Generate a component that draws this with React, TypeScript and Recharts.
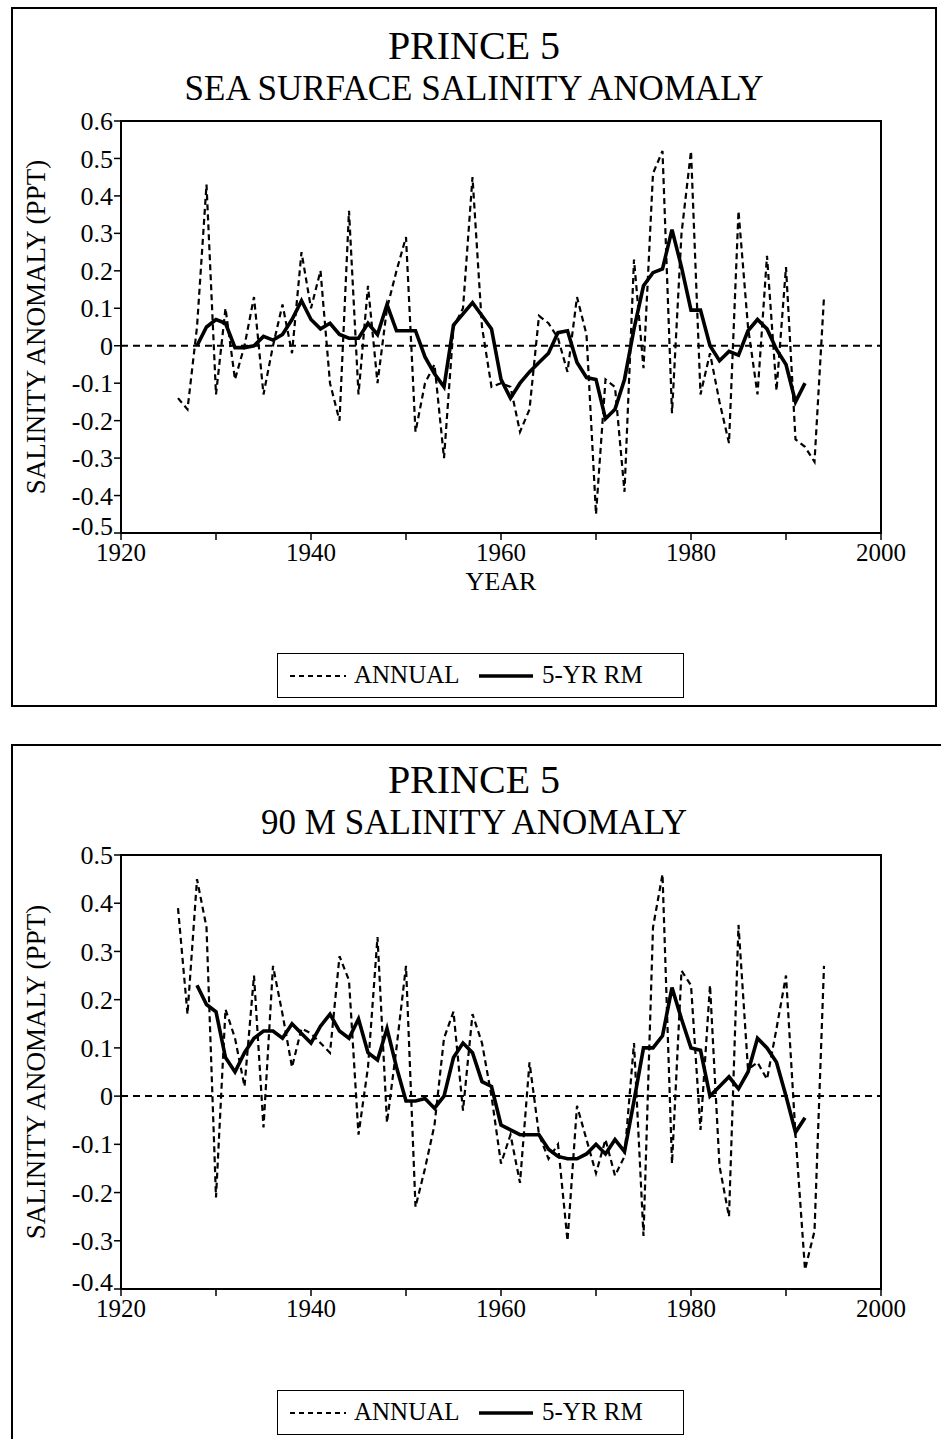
import { LineChart, Line, XAxis, YAxis, ReferenceLine, ReferenceArea } from 'recharts';

const FONT = '"Liberation Serif", "Times New Roman", serif';

// years with annual values, and years covered by the 5-yr running mean
const years = [
  1926, 1927, 1928, 1929, 1930, 1931, 1932, 1933, 1934, 1935, 1936, 1937, 1938, 1939, 1940,
  1941, 1942, 1943, 1944, 1945, 1946, 1947, 1948, 1949, 1950, 1951, 1952, 1953, 1954, 1955,
  1956, 1957, 1958, 1959, 1960, 1961, 1962, 1963, 1964, 1965, 1966, 1967, 1968, 1969, 1970,
  1971, 1972, 1973, 1974, 1975, 1976, 1977, 1978, 1979, 1980, 1981, 1982, 1983, 1984, 1985,
  1986, 1987, 1988, 1989, 1990, 1991, 1992, 1993, 1994,
];
const rmYears = years.slice(2, -2);

// sea surface salinity anomaly (ppt)
const surfaceAnnual = [
  -0.14, -0.17, 0.05, 0.43, -0.13, 0.1, -0.09, 0.0, 0.13, -0.13, 0.0, 0.11, -0.02, 0.25, 0.1,
  0.2, -0.1, -0.2, 0.36, -0.13, 0.16, -0.1, 0.1, 0.2, 0.29, -0.23, -0.1, -0.05, -0.3, 0.05,
  0.1, 0.45, 0.05, -0.11, -0.1, -0.11, -0.23, -0.17, 0.08, 0.06, 0.02, -0.07, 0.13, 0.03, -0.45,
  -0.09, -0.11, -0.39, 0.23, -0.06, 0.46, 0.52, -0.18, 0.3, 0.52, -0.13, -0.02, -0.15, -0.26, 0.36,
  0.05, -0.13, 0.24, -0.12, 0.21, -0.25, -0.27, -0.31, 0.13,
];
const surfaceRm = [
  0.0, 0.05, 0.07, 0.06, -0.005, -0.005, 0.0, 0.025, 0.015, 0.03, 0.07, 0.12, 0.07,
  0.045, 0.06, 0.03, 0.02, 0.02, 0.06, 0.03, 0.11, 0.04, 0.04, 0.04, -0.03, -0.075,
  -0.11, 0.055, 0.085, 0.115, 0.08, 0.045, -0.09, -0.14, -0.1, -0.07, -0.045, -0.02,
  0.035, 0.04, -0.045, -0.085, -0.09, -0.195, -0.17, -0.09, 0.045, 0.16, 0.195, 0.205,
  0.31, 0.21, 0.095, 0.095, 0.0, -0.04, -0.015, -0.025, 0.04, 0.07, 0.045, -0.01,
  -0.05, -0.15, -0.1,
];

// 90 m salinity anomaly (ppt)
const deepAnnual = [
  0.39, 0.17, 0.45, 0.35, -0.21, 0.18, 0.12, 0.02, 0.25, -0.065, 0.27, 0.17, 0.06, 0.14, 0.13,
  0.11, 0.09, 0.29, 0.24, -0.08, 0.06, 0.33, -0.055, 0.1, 0.27, -0.23, -0.15, -0.06, 0.12, 0.175,
  -0.03, 0.17, 0.11, 0.0, -0.14, -0.08, -0.18, 0.07, -0.08, -0.13, -0.1, -0.3, -0.02, -0.09, -0.16,
  -0.09, -0.165, -0.125, 0.11, -0.29, 0.35, 0.46, -0.14, 0.26, 0.23, -0.07, 0.23, -0.145, -0.25, 0.355,
  0.055, 0.07, 0.035, 0.14, 0.25, -0.08, -0.36, -0.28, 0.27,
];
const deepRm = [
  0.23, 0.19, 0.175, 0.08, 0.05, 0.09, 0.12, 0.135, 0.135, 0.12, 0.15, 0.13, 0.11,
  0.145, 0.17, 0.135, 0.12, 0.16, 0.09, 0.075, 0.14, 0.06, -0.01, -0.01, -0.005, -0.025,
  0.0, 0.08, 0.11, 0.09, 0.03, 0.02, -0.06, -0.07, -0.08, -0.08, -0.08, -0.11,
  -0.125, -0.13, -0.13, -0.12, -0.1, -0.12, -0.09, -0.115, -0.01, 0.1, 0.1, 0.125,
  0.225, 0.16, 0.1, 0.095, 0.0, 0.02, 0.04, 0.015, 0.05, 0.12, 0.1, 0.07,
  0.0, -0.075, -0.045,
];

const xTicks = [1920, 1930, 1940, 1950, 1960, 1970, 1980, 1990, 2000];
const xLabelled = [1920, 1940, 1960, 1980, 2000];
const surfaceTicks = [-0.5, -0.4, -0.3, -0.2, -0.1, 0, 0.1, 0.2, 0.3, 0.4, 0.5, 0.6];
const deepTicks = [-0.4, -0.3, -0.2, -0.1, 0, 0.1, 0.2, 0.3, 0.4, 0.5];

function buildRows(annual: number[], rm: number[]) {
  return years.map((year, i) => {
    const j = rmYears.indexOf(year);
    return { year, annual: annual[i], rm: j >= 0 ? rm[j] : null };
  });
}

const xTickStyle = { fill: '#000', fontSize: 25, fontFamily: FONT };
const fmtY = (v: number) => (v === 0 ? '0' : v.toFixed(1));
const fmtX = (v: number) => (xLabelled.includes(v) ? String(v) : '');

// y tick labels; the lowest one sits a little higher so it clears the year labels
function makeYTick(minValue: number) {
  return function YTick(props: any) {
    const { x, y, payload } = props;
    const lift = payload.value === minValue ? 7 : 0;
    return (
      <text x={x} y={y - lift} dy="0.35em" textAnchor="end" fill="#000" fontSize={26} fontFamily={FONT}>
        {fmtY(payload.value)}
      </text>
    );
  };
}

interface PanelProps {
  panelTop: number;
  panelWidth: number;
  panelHeight: number;
  plotTop: number;
  plotBottom: number;
  title: string;
  subtitle: string;
  rows: { year: number; annual: number; rm: number | null }[];
  yTicks: number[];
  showYear?: boolean;
}

function Panel({ panelTop, panelWidth, panelHeight, plotTop, plotBottom, title, subtitle, rows, yTicks, showYear }: PanelProps) {
  const mt = 20;
  const chartTop = plotTop - mt;
  const chartHeight = plotBottom - plotTop + mt + 44 + 5;
  const yMin = yTicks[0];
  const yMax = yTicks[yTicks.length - 1];
  const subCenter = plotTop - 32;
  const titleCenter = subCenter - 43;
  const legendTop = panelTop + 646;

  return (
    <>
      <div
        style={{
          position: 'absolute', left: 11, top: panelTop, width: panelWidth, height: panelHeight,
          border: '2px solid #000', boxSizing: 'border-box',
        }}
      />
      <div style={{ position: 'absolute', left: 74, width: 800, top: titleCenter - 20, lineHeight: '40px', fontSize: 40, textAlign: 'center' }}>
        {title}
      </div>
      <div style={{ position: 'absolute', left: 74, width: 800, top: subCenter - 18, lineHeight: '36px', fontSize: 35, textAlign: 'center' }}>
        {subtitle}
      </div>
      <div
        style={{
          position: 'absolute', left: 36 - 250, top: (plotTop + plotBottom) / 2 - 15, width: 500,
          lineHeight: '30px', fontSize: 27, textAlign: 'center', transform: 'rotate(-90deg)',
        }}
      >
        SALINITY ANOMALY (PPT)
      </div>
      {showYear && (
        <div style={{ position: 'absolute', left: 121, width: 760, top: plotBottom + 34, lineHeight: '30px', fontSize: 26, textAlign: 'center' }}>
          YEAR
        </div>
      )}
      <div style={{ position: 'absolute', left: 0, top: chartTop }}>
        <LineChart width={941} height={chartHeight} data={rows} margin={{ top: mt, right: 60, bottom: 5, left: 57 }}>
          <XAxis
            dataKey="year" type="number" domain={[1920, 2000]} ticks={xTicks} interval={0}
            tickFormatter={fmtX} height={44} tick={xTickStyle} tickSize={7} tickMargin={3}
            axisLine={{ stroke: '#000', strokeWidth: 2 }} tickLine={{ stroke: '#000', strokeWidth: 1.5 }}
          />
          <YAxis
            type="number" domain={[yMin, yMax]} ticks={yTicks} interval={0}
            width={64} tick={makeYTick(yMin)} tickSize={7} tickMargin={1}
            axisLine={{ stroke: '#000', strokeWidth: 2 }} tickLine={{ stroke: '#000', strokeWidth: 1.5 }}
          />
          <ReferenceArea x1={1920} x2={2000} y1={yMin} y2={yMax} fill="none" stroke="#000" strokeWidth={2} />
          <ReferenceLine y={0} stroke="#000" strokeWidth={2} strokeDasharray="7 5" />
          <Line type="linear" dataKey="annual" stroke="#000" strokeWidth={2.2} strokeDasharray="6 4" dot={false} isAnimationActive={false} />
          <Line type="linear" dataKey="rm" stroke="#000" strokeWidth={3.6} dot={false} isAnimationActive={false} />
        </LineChart>
      </div>
      <div
        style={{
          position: 'absolute', left: 277, top: legendTop, width: 407, height: 45,
          border: '1.5px solid #000', boxSizing: 'border-box', fontSize: 25, lineHeight: '42px',
        }}
      >
        <svg width={60} height={10} style={{ position: 'absolute', left: 12, top: 17 }}>
          <line x1={0} y1={5} x2={56} y2={5} stroke="#000" strokeWidth={1.8} strokeDasharray="5 4" />
        </svg>
        <span style={{ position: 'absolute', left: 76 }}>ANNUAL</span>
        <svg width={60} height={10} style={{ position: 'absolute', left: 201, top: 17 }}>
          <line x1={0} y1={5} x2={54} y2={5} stroke="#000" strokeWidth={3.6} />
        </svg>
        <span style={{ position: 'absolute', left: 264 }}>5-YR RM</span>
      </div>
    </>
  );
}

export default function App() {
  return (
    <div
      style={{
        position: 'absolute', left: 0, top: 0, width: 941, height: 1439, overflow: 'hidden',
        background: '#fff', fontFamily: FONT, color: '#000',
      }}
    >
      <Panel
        panelTop={7} panelWidth={926} panelHeight={700} plotTop={121} plotBottom={533}
        title="PRINCE 5" subtitle="SEA SURFACE SALINITY ANOMALY"
        rows={buildRows(surfaceAnnual, surfaceRm)} yTicks={surfaceTicks} showYear
      />
      <Panel
        panelTop={744} panelWidth={960} panelHeight={720} plotTop={855} plotBottom={1289}
        title="PRINCE 5" subtitle="90 M SALINITY ANOMALY"
        rows={buildRows(deepAnnual, deepRm)} yTicks={deepTicks}
      />
    </div>
  );
}
